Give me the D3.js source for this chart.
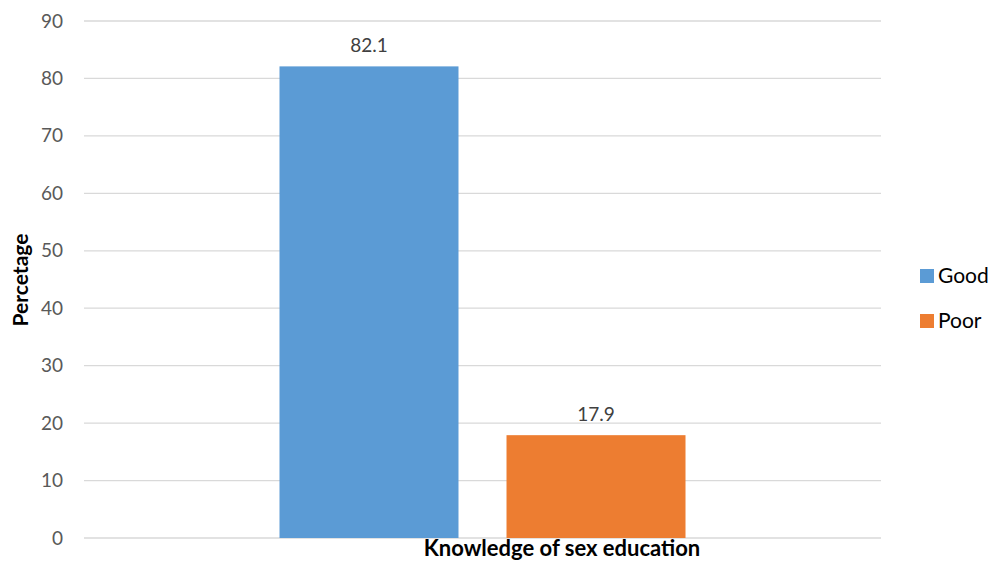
<!DOCTYPE html>
<html>
<head>
<meta charset="utf-8">
<script src="https://cdn.jsdelivr.net/npm/d3@7"></script>
<style>
  body { margin: 0; background: #fff; }
  text { font-family: Lato, "Open Sans", sans-serif; }
</style>
</head>
<body>
<script>
const categories = ['Knowledge of sex education'];
const series = ['Good', 'Poor'];
const values = [82.1, 17.9];
const colors = ['#5b9bd5', '#ed7d31'];
const yTicks = [0, 10, 20, 30, 40, 50, 60, 70, 80, 90];

const w = 992;
const h = 562;
const plotLeft = 84, plotRight = 881, plotTop = 21, plotBottom = 538;

const svg = d3.select('body').append('svg')
  .attr('width', w)
  .attr('height', h);

const y = d3.scaleLinear().domain([0, 90]).range([plotBottom, plotTop]);

const x0 = d3.scaleBand()
  .domain(categories)
  .range([plotLeft, plotRight])
  .paddingInner(0)
  .paddingOuter(0.4815);

const x1 = d3.scaleBand()
  .domain(series)
  .range([0, x0.bandwidth()])
  .paddingInner(0.2115)
  .paddingOuter(0);

// gridlines
svg.append('g')
  .selectAll('line')
  .data(yTicks)
  .enter().append('line')
    .attr('x1', plotLeft)
    .attr('x2', plotRight)
    .attr('y1', d => y(d))
    .attr('y2', d => y(d))
    .attr('stroke', '#d9d9d9')
    .attr('stroke-width', 1.3);

// y tick labels
const yAxis = d3.axisLeft(y).tickValues(yTicks).tickSize(0).tickPadding(21);
const ga = svg.append('g')
  .attr('transform', `translate(${plotLeft},0)`)
  .call(yAxis);
ga.select('.domain').remove();
ga.selectAll('text')
  .attr('fill', '#595959')
  .style('font-size', '19px')
  .style('font-family', 'Lato, "Open Sans", sans-serif');

const data = series.map((s, i) => ({ cat: categories[0], key: s, value: values[i], color: colors[i] }));

svg.append('g')
  .selectAll('rect')
  .data(data)
  .enter().append('rect')
    .attr('x', d => x0(d.cat) + x1(d.key))
    .attr('y', d => y(d.value))
    .attr('width', x1.bandwidth())
    .attr('height', d => y(0) - y(d.value))
    .attr('fill', d => d.color);

svg.append('g')
  .selectAll('text')
  .data(data)
  .enter().append('text')
    .attr('x', d => x0(d.cat) + x1(d.key) + x1.bandwidth() / 2)
    .attr('y', d => y(d.value) - 14)
    .attr('text-anchor', 'middle')
    .attr('fill', '#404040')
    .style('font-size', '19px')
    .text(d => d.value.toFixed(1));

// axis titles
svg.append('text')
  .attr('x', 562)
  .attr('y', 556)
  .attr('text-anchor', 'middle')
  .style('font-size', '22px')
  .style('font-weight', 'bold')
  .attr('fill', '#000')
  .text(categories[0]);

svg.append('text')
  .attr('transform', 'translate(28,280) rotate(-90)')
  .attr('text-anchor', 'middle')
  .style('font-size', '21px')
  .style('font-weight', 'bold')
  .attr('fill', '#000')
  .text('Percetage');

// legend
const legend = svg.append('g')
  .selectAll('g')
  .data(data)
  .enter().append('g')
    .attr('transform', (d, i) => `translate(920,${269 + i * 45})`);

legend.append('rect')
  .attr('width', 14)
  .attr('height', 14)
  .attr('fill', d => d.color);

legend.append('text')
  .attr('x', 18)
  .attr('y', 14)
  .style('font-size', '21px')
  .attr('fill', '#000')
  .text(d => d.key);
</script>
</body>
</html>
